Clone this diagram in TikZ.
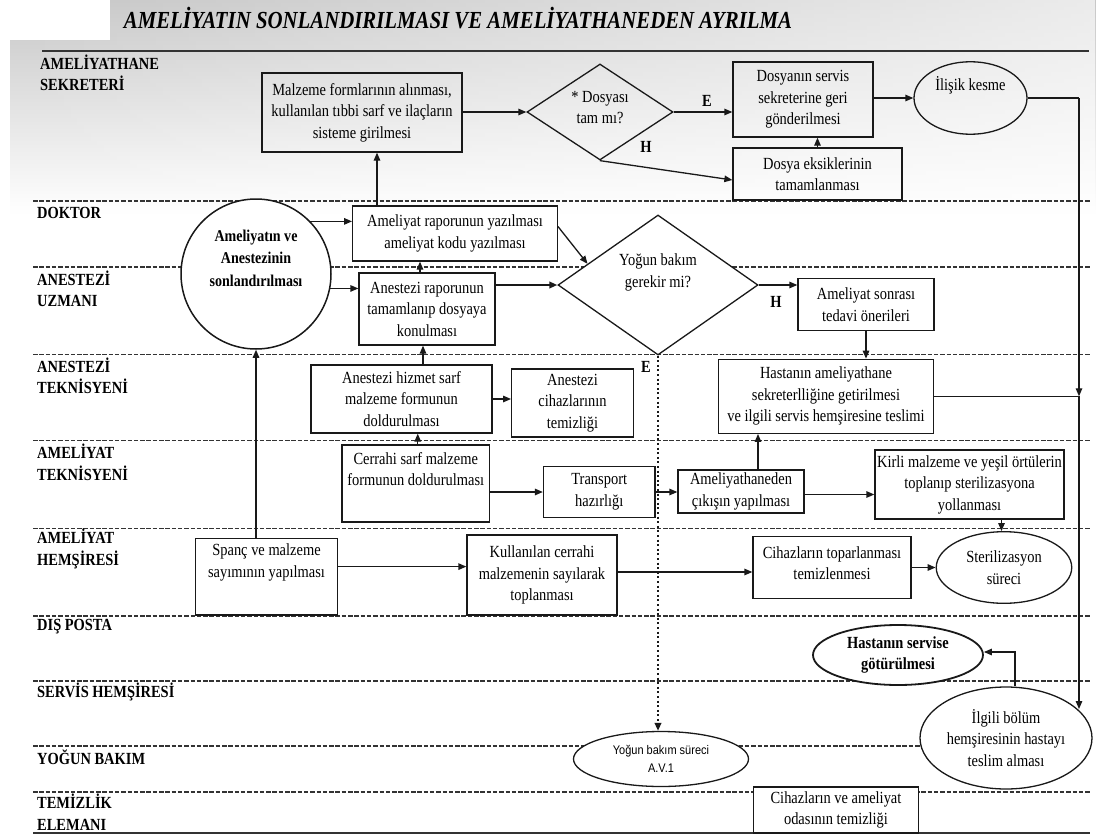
\documentclass[tikz,border=0pt]{standalone}
\usepackage{fontspec}
\setmainfont{Liberation Serif}[FakeStretch=0.85]
\newfontfamily\sansfam{Liberation Sans}[FakeStretch=0.88]
\usetikzlibrary{arrows.meta,shapes.geometric,calc,fadings}

\tikzfading[name=fadetoright, left color=transparent!100, right color=transparent!35]

\begin{document}
\begin{tikzpicture}[x=1pt,y=-1pt,
  lane/.style={draw=black!80, line width=1.2pt, dash pattern=on 4.5pt off 1.8pt},
  solidrule/.style={draw=black!80, line width=1.8pt},
  lanelabel/.style={anchor=west, align=left, inner sep=0pt, text=black,
    font=\fontsize{17}{21.5}\selectfont\bfseries},
  txt/.style={align=center, inner sep=0pt, text=black,
    font=\fontsize{17}{21.5}\selectfont},
  proc/.style={draw=black!90, line width=1.3pt, rectangle, fill=white,
    align=center, inner sep=2pt, text=black,
    font=\fontsize{17}{21.5}\selectfont},
  decision/.style={draw=black!90, line width=1.3pt, diamond, inner sep=0pt},
  oval/.style={draw=black!90, line width=1.3pt, ellipse, fill=white,
    align=center, inner sep=0pt, text=black,
    font=\fontsize{17}{21.5}\selectfont},
  flag/.style={inner sep=0pt, text=black, font=\fontsize{17}{20}\selectfont\bfseries},
  arr/.style={draw=black!90, line width=1.3pt, -{Triangle[length=8pt,width=6.5pt]}},
  plainline/.style={draw=black!90, line width=1.3pt},
  dotarr/.style={draw=black!90, line width=2pt, dash pattern=on 2pt off 2.6pt,
    -{Triangle[length=8pt,width=6.5pt]}}
]
% page
\fill[white] (0,0) rectangle (1096,838);
\useasboundingbox (0,0) rectangle (1096,838);

% grey band behind the heading and the first lane
\shade[top color=black!22, bottom color=white]
  (110,0) -- (1096,0) -- (1096,215) -- (10,215) -- (10,40) -- (110,40) -- cycle;
\fill[white, path fading=fadetoright]
  (110,0) -- (1096,0) -- (1096,215) -- (10,215) -- (10,40) -- (110,40) -- cycle;

% heading
\node[inner sep=0pt, text=black, font=\fontsize{24.5}{28}\selectfont\bfseries\itshape]
  (title) at (458,18) {AMELİYATIN SONLANDIRILMASI VE AMELİYATHANEDEN AYRILMA};

% swimlane separators
\draw[solidrule] (42,51) -- (1089,51);
\foreach \yy in {201,267,354.5,440.5,528.5,616,681,746,792}
  \draw[lane] (33,\yy) -- (1090,\yy);
\draw[solidrule] (33,833) -- (1090,833);

% lane titles
\node[lanelabel] (l-sek) at (40,73)    {AMELİYATHANE\\SEKRETERİ};
\node[lanelabel] (l-dok) at (37,213)   {DOKTOR};
\node[lanelabel] (l-anu) at (37,289)   {ANESTEZİ\\UZMANI};
\node[lanelabel] (l-ant) at (37,376)   {ANESTEZİ\\TEKNİSYENİ};
\node[lanelabel] (l-amt) at (37,462.5) {AMELİYAT\\TEKNİSYENİ};
\node[lanelabel] (l-amh) at (37,549)   {AMELİYAT\\HEMŞİRESİ};
\node[lanelabel] (l-dis) at (37,627)   {DIŞ POSTA};
\node[lanelabel] (l-ser) at (37,692)   {SERVİS HEMŞİRESİ};
\node[lanelabel] (l-yog) at (37,757)   {YOĞUN BAKIM};
\node[lanelabel] (l-tem) at (37,812)   {TEMİZLİK\\ELEMANI};

% --- secretary lane
\node[proc, fill=none, minimum width=200pt, minimum height=79pt] (malz) at (362,112.5)
  {Malzeme formlarının alınması,\\kullanılan tıbbi sarf ve ilaçların\\sisteme girilmesi};
\node[decision, minimum width=146pt, minimum height=96pt] (dsy) at (600,112) {};
\node[txt] (dsy-t) at (600,107.5) {* Dosyası\\tam mı?};
\node[flag] (e1) at (707,101) {E};
\node[flag] (h1) at (646,147) {H};
\node[proc, fill=none, minimum width=140pt, minimum height=75pt] (dgs) at (803,99.5)
  {Dosyanın servis\\sekreterine geri\\gönderilmesi};
\node[proc, fill=none, minimum width=169pt, minimum height=52pt] (eks) at (817.5,174)
  {Dosya eksiklerinin\\tamamlanması};
\node[oval, fill=none, minimum width=113pt, minimum height=72.5pt] (ilis) at (970.5,98) {};
\node[txt] (ilis-t) at (970.5,85) {İlişik kesme};

% --- start event
\node[draw=black!90, line width=1.5pt, circle, fill=white, inner sep=0pt,
  minimum size=150pt] (circ) at (256,274) {};
\node[txt, font=\fontsize{16.5}{22.5}\selectfont\bfseries] (circ-t) at (256,258)
  {Ameliyatın ve\\Anestezinin\\sonlandırılması};

% --- doctor / anaesthetist lanes
\node[proc, minimum width=204.6pt, minimum height=55pt] (rap) at (455,233.5)
  {Ameliyat raporunun yazılması\\ameliyat kodu yazılması};
\node[proc, minimum width=136pt, minimum height=72pt] (anr) at (427,309)
  {Anestezi raporunun\\tamamlanıp dosyaya\\konulması};
\node[decision, fill=white, minimum width=200pt, minimum height=140pt] (yog) at (658,285) {};
\node[txt] (yog-t) at (658,272.5) {Yoğun bakım\\gerekir mi?};
\node[flag] (h2) at (776,302) {H};
\node[flag] (e2) at (646,367) {E};
\node[proc, minimum width=136pt, minimum height=52.6pt] (aso) at (866,304.5)
  {Ameliyat sonrası\\tedavi önerileri};

% --- anaesthesia technician lane
\node[proc, minimum width=181pt, minimum height=68pt] (hizm) at (401.5,399)
  {Anestezi hizmet sarf\\malzeme formunun\\doldurulması};
\node[proc, minimum width=121.6pt, minimum height=68pt] (ciha) at (572.5,403)
  {Anestezi\\cihazlarının\\temizliği};
\node[proc, minimum width=215.3pt, minimum height=74pt] (hast) at (826,396.3)
  {Hastanın ameliyathane\\sekreterlliğine getirilmesi\\ve ilgili servis hemşiresine teslimi};

% --- surgical technician lane
\node[proc, minimum width=147.5pt, minimum height=77pt] (cerr) at (415.75,483.5) {};
\node[txt] (cerr-t) at (415.75,469) {Cerrahi sarf malzeme\\formunun doldurulması};
\node[proc, minimum width=111.5pt, minimum height=50.6pt] (trans) at (599.25,492)
  {Transport\\hazırlığı};
\node[proc, minimum width=126pt, minimum height=43pt] (amc) at (741,491.5)
  {Ameliyathaneden\\çıkışın yapılması};
\node[proc, inner xsep=1pt, minimum width=189pt, minimum height=69pt] (kirli) at (969.5,484.5)
  {Kirli malzeme ve yeşil örtülerin\\toplanıp sterilizasyona\\yollanması};

% --- scrub nurse lane
\node[proc, minimum width=142pt, minimum height=76.7pt] (spanc) at (266.5,576.6) {};
\node[txt] (spanc-t) at (266.5,562.5) {Spanç ve malzeme\\sayımının yapılması};
\node[proc, minimum width=150pt, minimum height=80pt] (kull) at (542,575)
  {Kullanılan cerrahi\\malzemenin sayılarak\\toplanması};
\node[proc, minimum width=158pt, minimum height=61.6pt] (cihtop) at (832,567.5) {};
\node[txt] (cihtop-t) at (832,563) {Cihazların toparlanması\\temizlenmesi};
\node[oval, minimum width=135.5pt, minimum height=71.6pt] (ster) at (1004,567.5)
  {Sterilizasyon\\süreci};

% --- ward, ICU and cleaning lanes
\node[oval, line width=1.8pt, minimum width=170pt, minimum height=60pt,
  font=\fontsize{17}{21.5}\selectfont\bfseries] (hsv) at (898,655)
  {Hastanın servise\\götürülmesi};
\node[oval, minimum width=172pt, minimum height=102pt] (ilg) at (1006,738)
  {İlgili bölüm\\hemşiresinin hastayı\\teslim alması};
\node[oval, minimum width=175pt, minimum height=55pt,
  font=\sansfam\fontsize{12.5}{18}\selectfont] (ybs) at (661,759)
  {Yoğun bakım süreci\\A.V.1};
\node[proc, minimum width=165pt, minimum height=46pt] (cvt) at (836,810)
  {Cihazların ve ameliyat\\odasının temizliği};

% --- connectors
\draw[arr] ([xshift=-78pt]rap.north) -- ([xshift=-78pt]rap.north |- malz.south);
\draw[arr] (malz.east |- dsy.west) -- (dsy.west);
\draw[arr] (dsy.east) -- (dsy.east -| dgs.west);
\draw[arr] (dsy.south) -- ([yshift=-6pt]eks.west);
\draw[arr] (eks.north) -- (eks.north |- dgs.south);
\draw[arr] (dgs.east |- ilis.west) -- (ilis.west);

\coordinate (rt) at (1079,98);
\draw[plainline] (ilis.east) -- (rt);
\draw[arr] (rt) -- (rt |- hast.east);
\draw[plainline] (hast.east) -- (rt |- hast.east);
\draw[arr] (rt |- hast.east) -- (rt |- ilg.22);

\draw[arr] (circ.44) -- (circ.44 -| rap.west);
\draw[arr] (circ.-11) -- (circ.-11 -| anr.west);
\draw[arr] ([xshift=-7pt]anr.north) -- ([xshift=-7pt]anr.north |- rap.south);
\draw[arr, line width=2.4pt] (anr.east |- yog.west) -- (yog.west);
\draw[arr] ([yshift=7pt]rap.east) -- ($(yog.west)!0.3!(yog.north)$);
\draw[arr] (yog.east) -- (yog.east -| aso.west);
\draw[arr] (aso.south) -- (aso.south |- hast.north);
\draw[dotarr] (yog.south) -- (yog.south |- ybs.north);

\draw[arr] ([xshift=21.5pt]hizm.north) -- ([xshift=21.5pt]hizm.north |- anr.south);
\draw[arr] (hizm.east) -- (hizm.east -| ciha.west);
\draw[arr] ([xshift=2pt]cerr.north) -- ([xshift=2pt]cerr.north |- hizm.south);
\draw[arr] (cerr.east |- trans.west) -- (trans.west);
\draw[arr] (trans.east) -- (trans.east -| amc.west);
\draw[arr] ([xshift=17pt]amc.north) -- ([xshift=17pt]amc.north |- hast.south);
\draw[arr] ([yshift=-3pt]amc.east) -- ([yshift=-3pt]amc.east -| kirli.west);
\draw[arr] ([xshift=32pt]kirli.south) -- ([xshift=32pt]kirli.south |- ster.north);

\draw[arr] (spanc.north -| circ.south) -- (circ.south);
\draw[arr] ([yshift=10pt]spanc.east) -- ([yshift=10pt]spanc.east -| kull.west);
\draw[arr] ([yshift=3pt]kull.east) -- ([yshift=3pt]kull.east -| cihtop.west);
\draw[arr] (cihtop.east |- ster.west) -- (ster.west);
\draw[arr] ([xshift=9pt]ilg.north) |- ([yshift=3pt]hsv.east);
\end{tikzpicture}
\end{document}
